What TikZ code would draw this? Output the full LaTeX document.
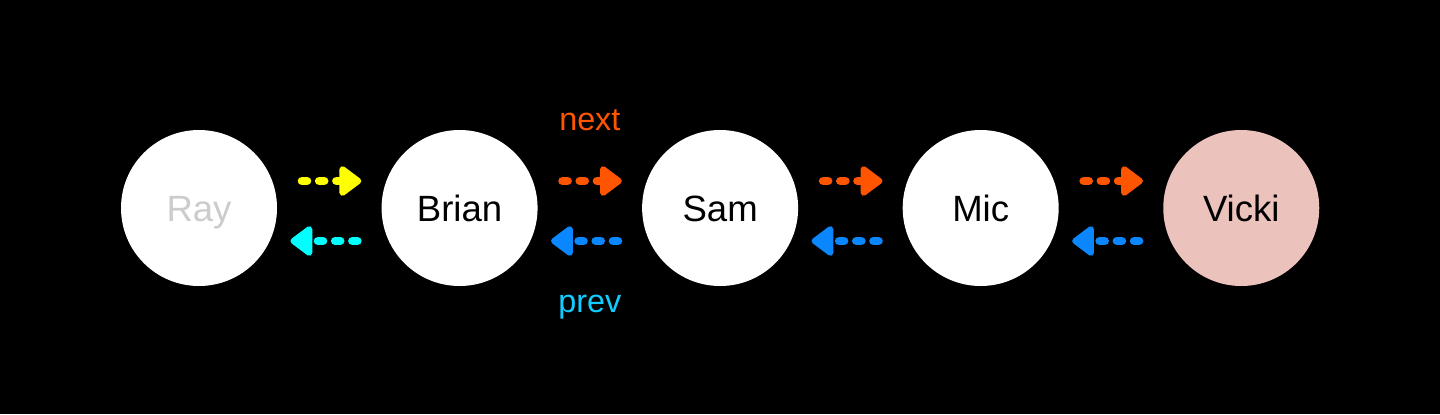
\documentclass[tikz,border=0pt]{standalone}
\usepackage{fontspec}
\setmainfont{Liberation Sans}
\usetikzlibrary{positioning, arrows.meta}

\definecolor{nextorange}{HTML}{FF5500}
\definecolor{nextyellow}{HTML}{FFFF00}
\definecolor{prevblue}{HTML}{0A86FF}
\definecolor{prevaqua}{HTML}{00FFFF}
\definecolor{prevcyan}{HTML}{11CCFF}
\definecolor{tailpink}{HTML}{EBC3BC}

\begin{document}
\begin{tikzpicture}[
        node distance = 2.6cm,
        every node/.style = {
            font = \fontsize{26}{30}\selectfont
        },
        person/.style = {
            circle,
            fill = white,
            minimum size = 3.9cm,
            inner sep = 0pt,
            text height = 18.7pt,
            text depth = 0pt
        },
        link/.style = {
            line width = 0.22cm,
            line cap = round,
            dash pattern = on 0.12cm off 0.31cm,
            -{Triangle[length=0.6cm, width=0.85cm, round]}
        },
        linklabel/.style = {
            font = \fontsize{23}{27}\selectfont
        }]
        \fill[black] (0,0) rectangle (36,10.35);
        \useasboundingbox (0,0) rectangle (36,10.35);

        \node[person, text=black!20] (ray) at (4.975,5.15) {Ray};
        \node[person] (brian) [right=of ray] {Brian};
        \node[person] (sam) [right=of brian] {Sam};
        \node[person] (mic) [right=of sam] {Mic};
        \node[person, fill=tailpink] (vicki) [right=of mic] {Vicki};

        \draw[link, nextyellow] ([shift={(0.62cm,0.675cm)}]ray.east) -- ([shift={(-0.5cm,0.675cm)}]brian.west);
        \draw[link, prevaqua] ([shift={(-0.6cm,-0.825cm)}]brian.west) -- ([shift={(0.33cm,-0.825cm)}]ray.east);

        \draw[link, nextorange] ([shift={(0.62cm,0.675cm)}]brian.east) -- ([shift={(-0.5cm,0.675cm)}]sam.west);
        \draw[link, prevblue] ([shift={(-0.6cm,-0.825cm)}]sam.west) -- ([shift={(0.33cm,-0.825cm)}]brian.east);

        \draw[link, nextorange] ([shift={(0.62cm,0.675cm)}]sam.east) -- ([shift={(-0.5cm,0.675cm)}]mic.west);
        \draw[link, prevblue] ([shift={(-0.6cm,-0.825cm)}]mic.west) -- ([shift={(0.33cm,-0.825cm)}]sam.east);

        \draw[link, nextorange] ([shift={(0.62cm,0.675cm)}]mic.east) -- ([shift={(-0.5cm,0.675cm)}]vicki.west);
        \draw[link, prevblue] ([shift={(-0.6cm,-0.825cm)}]vicki.west) -- ([shift={(0.33cm,-0.825cm)}]mic.east);

        \node[linklabel, text=nextorange] (nexttext) at ([shift={(1.3cm,2.2cm)}]brian.east) {next};
        \node[linklabel, text=prevcyan] (prevtext) at ([shift={(1.3cm,-2.48cm)}]brian.east) {prev};
    \end{tikzpicture}
\end{document}
